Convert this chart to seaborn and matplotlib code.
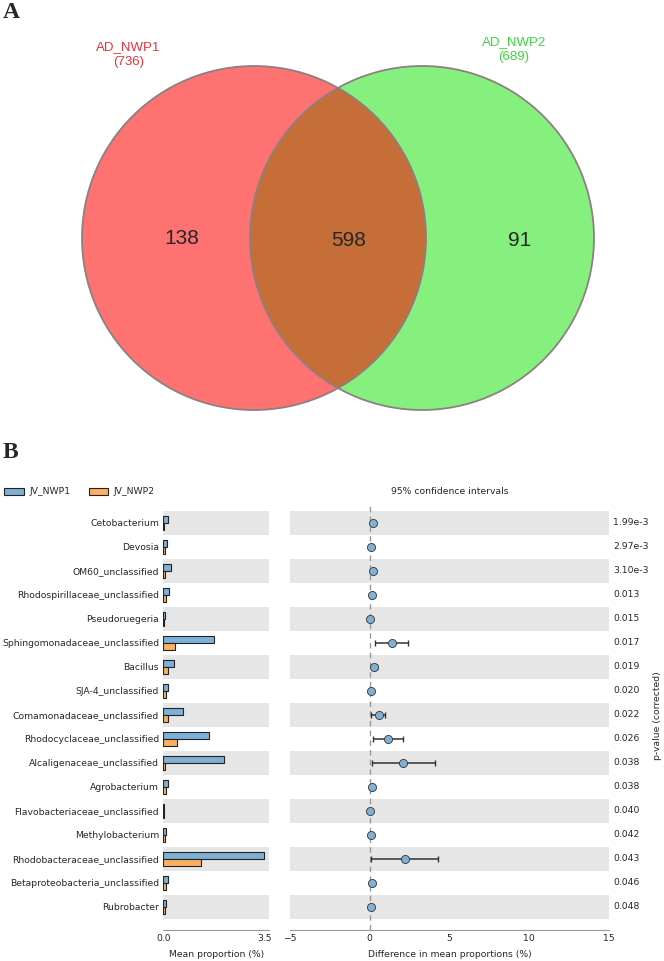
import numpy as np
import pandas as pd
import seaborn as sns
import matplotlib
matplotlib.use('Agg')
import matplotlib.pyplot as plt
from matplotlib.patches import Circle, Patch
from matplotlib.transforms import blended_transform_factory

# panel A: venn counts
set_names = ['AD_NWP1', 'AD_NWP2']
set_totals = [736, 689]
only_left = 138
shared = 598
only_right = 91

# panel B: extended error bar data
taxa = ['Cetobacterium', 'Devosia', 'OM60_unclassified',
        'Rhodospirillaceae_unclassified', 'Pseudoruegeria',
        'Sphingomonadaceae_unclassified', 'Bacillus', 'SJA-4_unclassified',
        'Comamonadaceae_unclassified', 'Rhodocyclaceae_unclassified',
        'Alcaligenaceae_unclassified', 'Agrobacterium',
        'Flavobacteriaceae_unclassified', 'Methylobacterium',
        'Rhodobacteraceae_unclassified', 'Betaproteobacteria_unclassified',
        'Rubrobacter']
groups = ['JV_NWP1', 'JV_NWP2']
mean_nwp1 = [0.15, 0.13, 0.25, 0.20, 0.07, 1.75, 0.38, 0.15, 0.67, 1.60,
             2.12, 0.18, 0.03, 0.08, 3.50, 0.16, 0.10]
mean_nwp2 = [0.03, 0.05, 0.05, 0.08, 0.03, 0.40, 0.15, 0.08, 0.15, 0.47,
             0.05, 0.10, 0.02, 0.05, 1.30, 0.08, 0.05]
diff = [0.19, 0.08, 0.23, 0.17, 0.04, 1.38, 0.29, 0.10, 0.56, 1.13,
        2.10, 0.12, 0.04, 0.06, 2.19, 0.12, 0.06]
ci_low = [0.10, 0.03, 0.12, 0.08, 0.01, 0.33, 0.15, 0.04, 0.06, 0.19,
          0.15, 0.04, 0.01, 0.02, 0.08, 0.04, 0.02]
ci_high = [0.28, 0.13, 0.34, 0.26, 0.07, 2.40, 0.43, 0.16, 0.98, 2.10,
           4.08, 0.20, 0.07, 0.10, 4.31, 0.20, 0.10]
pvals = ['1.99e-3', '2.97e-3', '3.10e-3', '0.013', '0.015', '0.017', '0.019',
         '0.020', '0.022', '0.026', '0.038', '0.038', '0.040', '0.042',
         '0.043', '0.046', '0.048']

blue = '#7fb0d6'
orange = '#fbb062'
band = '#e6e6e6'
fs = 6.7

sns.set_style('white')
plt.rcParams['font.family'] = ['DejaVu Sans']

W, H = 664, 961
fig = plt.figure(figsize=(W / 100, H / 100), dpi=100)

# ---- panel A (pixel coordinates) ----
ax_v = fig.add_axes([0, 0, 1, 1], zorder=0)
ax_v.set_xlim(0, W)
ax_v.set_ylim(H, 0)
ax_v.axis('off')

c_left = Circle((254, 238), 172, facecolor='#ff7272', edgecolor='none')
c_right = Circle((422, 238), 172, facecolor='#86f07e', edgecolor='none')
ax_v.add_patch(c_left)
ax_v.add_patch(c_right)
lens = Circle((422, 238), 172, facecolor='#c66e37', edgecolor='none')
ax_v.add_patch(lens)
lens.set_clip_path(c_left)
for cx in (254, 422):
    ax_v.add_patch(Circle((cx, 238), 172, fill=False, edgecolor='#8c8080', lw=1.3))

venn_font = dict(family='Liberation Sans', ha='center', va='center')
ax_v.text(182, 238, str(only_left), fontsize=15, **venn_font)
ax_v.text(349, 240, str(shared), fontsize=15, **venn_font)
ax_v.text(520, 240, str(only_right), fontsize=15, **venn_font)
ax_v.text(128, 47, set_names[0], fontsize=9.5, color='#e8333c', **venn_font)
ax_v.text(129, 62, '(%d)' % set_totals[0], fontsize=9.5, color='#e8333c', **venn_font)
ax_v.text(514, 42, set_names[1], fontsize=9.5, color='#3fd43f', **venn_font)
ax_v.text(514, 57, '(%d)' % set_totals[1], fontsize=9.5, color='#3fd43f', **venn_font)

fig.text(3 / W, 1 - 12 / H, 'A', family='Liberation Serif', weight='bold',
         fontsize=17, va='center')
fig.text(3 / W, 1 - 452 / H, 'B', family='Liberation Serif', weight='bold',
         fontsize=17, va='center')

# ---- panel B ----
ax_top, ax_bot = 503, 930
ax_l = fig.add_axes([163.3 / W, 1 - ax_bot / H, 106 / W, (ax_bot - ax_top) / H], zorder=1)
ax_r = fig.add_axes([290 / W, 1 - ax_bot / H, 319 / W, (ax_bot - ax_top) / H], zorder=1)

df = pd.DataFrame({'taxon': taxa * 2,
                   'group': [groups[0]] * len(taxa) + [groups[1]] * len(taxa),
                   'value': mean_nwp1 + mean_nwp2})

n = len(taxa)
for ax in (ax_l, ax_r):
    for i in range(0, n, 2):
        ax.axhspan(i - 0.5, i + 0.5, color=band, lw=0, zorder=0)

sns.barplot(data=df, x='value', y='taxon', hue='group', order=taxa,
            hue_order=groups, palette=[blue, orange], saturation=1,
            orient='h', width=0.6, edgecolor='#222222', linewidth=0.8,
            errorbar=None, legend=False, ax=ax_l)

ax_r.axvline(0, color='#999999', ls=(0, (4, 3)), lw=1, zorder=1)
ypos = np.arange(n)
d = np.array(diff)
err = [d - np.array(ci_low), np.array(ci_high) - d]
ax_r.errorbar(d, ypos, xerr=err, fmt='none', ecolor='#333333', elinewidth=1.1,
              capsize=2.5, capthick=1, zorder=2)
sns.scatterplot(x=d, y=ypos, color=blue, edgecolor='#333333', linewidth=0.6,
                s=34, zorder=3, ax=ax_r)

ylim = (16.96, -0.83)
for ax in (ax_l, ax_r):
    ax.set_ylim(*ylim)
    for s in ('top', 'right', 'left'):
        ax.spines[s].set_visible(False)
    ax.spines['bottom'].set_color('#999999')
    ax.tick_params(axis='x', direction='in', length=4, color='#999999',
                   labelsize=fs, pad=3)
    ax.set_ylabel('')

ax_l.set_xlim(0, 3.68)
ax_l.set_xticks([0, 3.5])
ax_l.set_xticklabels(['0.0', '3.5'])
ax_l.tick_params(axis='y', length=0, labelsize=fs, pad=3)
ax_l.set_xlabel('Mean proportion (%)', fontsize=fs, labelpad=5)

ax_r.set_xlim(-5, 15)
ax_r.set_xticks([-5, 0, 5, 10, 15])
ax_r.set_yticks([])
ax_r.set_xlabel('Difference in mean proportions (%)', fontsize=fs, labelpad=5)

tr = blended_transform_factory(ax_r.transAxes, ax_r.transData)
for i, p in enumerate(pvals):
    ax_r.text(1.0125, i, p, transform=tr, fontsize=fs, va='center', ha='left')

fig.text(658 / W, 1 - 716 / H, 'p-value (corrected)', rotation=90,
         fontsize=fs, ha='center', va='center')
fig.text(449.5 / W, 1 - 491 / H, '95% confidence intervals', fontsize=fs,
         ha='center', va='center')

handles = [Patch(facecolor=blue, edgecolor='#222222', lw=0.8, label=groups[0]),
           Patch(facecolor=orange, edgecolor='#222222', lw=0.8, label=groups[1])]
fig.legend(handles=handles, loc='center left', bbox_to_anchor=(4 / W, 1 - 492 / H),
           ncol=2, frameon=False, fontsize=fs, handlelength=2.1,
           handleheight=0.75, handletextpad=0.6, columnspacing=2.0,
           borderaxespad=0, borderpad=0)

fig.savefig('out.png', dpi=100)
